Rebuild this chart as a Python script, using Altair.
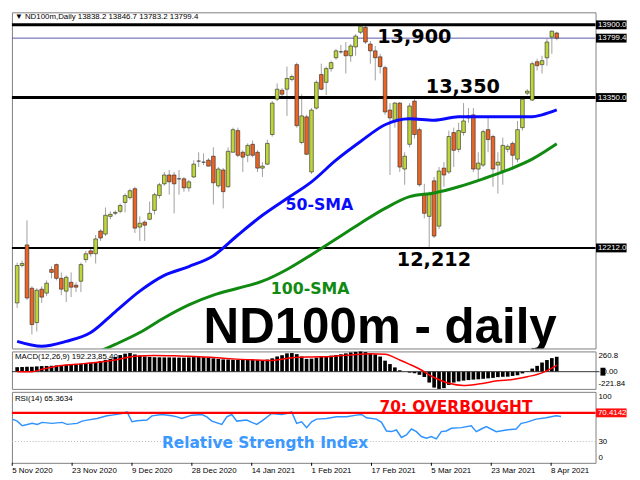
import altair as alt
import pandas as pd

# ---------------- data ----------------
opens = [11796,12079,12235,11907,11647,11900,11870,12049,12086,11982,11885,11952,11930,11960,12124,12190,12168,12340,12317,12451,
         12474,12489,12556,12593,12660,12370,12407,12429,12496,12608,12697,12764,12764,12735,12735,12667,12749,12869,12861,12876,
         12906,12682,12802,12675,12936,13100,12936,12913,12996,12936,12816,12846,13070,13338,13405,13413,13487,13599,13010,13204,
         12787,13270,13524,13465,13569,13651,13696,13703,13666,13733,13844,13882,13755,13703,13658,13576,13255,13173,13308,12809,
         12996,13323,13107,12615,12451,12720,12377,12816,12787,13085,12958,13085,13196,13219,12809,12839,13107,13055,12839,12794,
         12958,13003,12884,13122,13383,13331,13621,13599,13651,13807,13838.2]
highs = [12101,12116,12421,11922,11907,11922,11967,12072,12094,12027,12004,12027,11952,12101,12190,12213,12310,12354,12518,12489,
         12496,12548,12623,12660,12675,12451,12421,12563,12630,12705,12787,12802,12787,12802,12749,12727,12876,12936,12928,12891,
         12973,12824,12816,12973,13122,13122,12951,13003,13025,12951,12861,13032,13323,13457,13420,13584,13524,13614,13375,13219,
         13270,13480,13606,13584,13629,13718,13748,13770,13755,13830,13900,13900,13778,13740,13681,13591,13308,13316,13316,12936,
         13308,13338,13122,12697,12638,12749,12824,12861,13100,13122,13159,13308,13270,13270,12936,13107,13196,13070,12936,13047,
         12996,13018,13173,13353,13413,13621,13643,13666,13793,13859,13846.7]
lows = [11758,12064,11818,11557,11580,11796,11848,11982,11967,11855,11803,11840,11878,11878,12101,12146,12094,12265,12302,12429,
        12459,12474,12481,12578,12325,12265,12265,12422,12466,12586,12682,12615,12474,12615,12637,12638,12742,12824,12839,12831,
        12541,12667,12511,12667,12936,12899,12787,12861,12899,12787,12749,12839,13055,13323,13338,13211,13472,13122,12996,12913,
        12772,13260,13405,13368,13546,13636,13681,13532,13621,13666,13830,13755,13606,13480,13532,13219,12764,13122,12787,12690,
        12973,13040,12675,12436,12212,12287,12354,12675,12772,12824,12936,13062,13159,12787,12727,12824,12936,12675,12623,12690,
        12936,12801,12861,13100,13368,13323,13554,13532,13591,13681,13783.2]
closes = [12079,12094,11833,11632,11892,11840,11945,12027,11982,11900,11990,11915,11915,12086,12168,12168,12280,12287,12459,12466,
          12481,12533,12608,12645,12362,12399,12384,12474,12615,12690,12764,12712,12697,12735,12667,12712,12846,12869,12861,12831,
          12705,12809,12638,12943,13107,12913,12899,12988,12913,12816,12831,13003,13308,13413,13375,13494,13509,13137,13211,12921,
          13255,13465,13413,13569,13614,13703,13696,13666,13740,13815,13889,13770,13703,13651,13584,13241,13196,13308,12824,12906,
          13286,13070,12690,12474,12623,12302,12794,12764,13055,12951,13100,13173,13211,12809,12854,13092,13032,12809,12861,12988,
          12981,12913,13107,13338,13398,13606,13591,13629,13770,13852,13799.4]

sma50_idx = [0,5,10,15,20,25,30,35,40,45,50,55,60,65,70,75,80,85,90,95,100,105,107,110]
sma50_val = [11505,11468,11505,11572,11729,11885,12004,12071,12153,12310,12459,12586,12712,12876,13017,13144,13189,13178,
             13204,13204,13204,13204,13219,13256]
sma100_idx = [15,20,25,30,35,40,45,50,55,60,65,70,75,80,85,90,95,100,105,110]
sma100_val = [11401,11482,11572,11684,11781,11855,11907,11960,12049,12161,12280,12399,12511,12600,12628,12675,12735,12802,
              12884,13000]

macd_hist = [58,60,62,63,68,72,74,76,80,84,88,94,98,104,110,116,125,138,152,165,
             190,214,232,240,222,208,196,190,186,185,184,184,183,182,181,184,188,188,186,180,
             172,164,158,156,155,154,152,153,152,150,150,156,172,196,212,236,240,226,196,165,
             168,180,192,200,206,214,224,236,248,255,260.8,252,240,222,195,142,98,55,18,0,
             -12,-20,-40,-68,-140,-205,-221.84,-212,-170,-140,-125,-115,-108,-102,-98,-92,-86,-80,-70,-66,
             -64,-55,-46,-22,8,40,75,118,150,175,192.23]
signal_idx = [0,3,5,8,12,16,20,24,28,32,36,40,44,48,52,56,60,64,68,72,75,78,80,82,85,88,91,94,98,101,104,107,109,110]
signal_val = [0,0,30,70,95,118,150,200,210,205,195,184,165,153,145,180,190,197,215,230,225,150,95,35,-75,-150,-178,-160,
              -118,-100,-65,-15,45,85.4]

rsi_idx = [0,1,2,4,5,6,8,10,11,13,14,15,17,19,20,22,23,24,25,27,28,30,32,33,34,36,38,39,40,42,43,44,45,47,48,49,50,
           52,54,55,56,57,58,59,60,61,63,65,67,69,70,71,73,74,75,76,77,78,79,80,81,82,83,84,85,86,87,88,90,92,93,94,
           95,97,99,101,102,103,105,107,109,110]
rsi_val = [61.6,58.8,52.3,55.6,54.2,57.0,55.6,57.0,54.2,55.6,58.8,60.2,62.5,66.2,67.2,69.5,71.8,57.9,59.3,60.2,66.2,
           68.1,66.2,64.8,62.5,67.2,68.1,64.8,58.8,54.2,64.8,68.1,58.8,60.2,57.0,54.2,58.8,
           69.5,68.1,69.5,71.8,55.6,57.9,49.6,57.9,61.6,62.5,64.8,64.8,67.2,68.1,63.4,61.6,57.0,44.9,44.0,46.3,35.7,
           39.4,47.7,44.0,37.1,34.7,37.1,33.8,44.0,44.9,48.6,49.6,52.3,44.0,47.7,
           51.0,44.0,46.3,47.7,55.6,57.0,61.6,63.4,66.2,65.36]

date_ticks = [0, 12, 24, 36, 48, 60, 72, 84, 96, 108]
date_labels = ["5 Nov 2020", "23 Nov 2020", "9 Dec 2020", "28 Dec 2020", "14 Jan 2021", "1 Feb 2021",
               "17 Feb 2021", "5 Mar 2021", "23 Mar 2021", "8 Apr 2021"]
price_ticks = [11544.0, 11773.5, 12007.5, 12241.5, 12471.0, 12705.0, 12939.0, 13173.0, 13402.5, 13636.5, 13870.5]
thick_levels = [13900.0, 13350.0]
thin_level = [12212.0]
last_price = 13799.4
box_levels = [13900.0, 13799.4, 13350.0, 12212.0]
box_labels = ["13900.0", "13799.4", "13350.0", "12212.0"]
macd_labels_v = [260.8, 0.0, -221.84]
macd_labels_t = ["260.8", "0.00", "-221.84"]
rsi_level = 70.4142
rsi_dotted = [30]

# ---------------- styling ----------------
FONT = "Liberation Sans"
HEAVY = "DejaVu Sans"
W = 592
H_MAIN, H_MACD, H_RSI = 341, 38, 72
BULL, BEAR, WICK = "#bfd63a", "#ec6424", "#a0a0a0"

xs = alt.Scale(domain=[-0.06, 116.9], nice=False, zero=False)
ys_main = alt.Scale(domain=[11451.2, 13994.7], nice=False, zero=False)
ys_macd = alt.Scale(domain=[-221.84, 260.8], nice=False, zero=False)
ys_rsi = alt.Scale(domain=[0, 100], nice=False, zero=False)


def X(f):
    return alt.X(f, type="quantitative", scale=xs, axis=None)


def YM(f):
    return alt.Y(f, type="quantitative", scale=ys_main, axis=None)


def YD(f):
    return alt.Y(f, type="quantitative", scale=ys_macd, axis=None)


def YR(f):
    return alt.Y(f, type="quantitative", scale=ys_rsi, axis=None)


candles = pd.DataFrame({"i": list(range(len(closes))), "o": opens, "h": highs, "l": lows, "c": closes})

main_axis = alt.Axis(orient="right", values=price_ticks, format=".1f", labelFont=FONT, labelFontSize=8,
                     labelColor="black", tickColor="black", tickSize=3, labelPadding=1, domain=False,
                     grid=False, title=None, labelOverlap=False)

wicks = alt.Chart(candles).mark_rule(color=WICK, strokeWidth=1).encode(
    x=X("i"), y=alt.Y("l:Q", scale=ys_main, axis=main_axis), y2="h:Q")
bodies = alt.Chart(candles).mark_bar(size=3.7, stroke="#262626", strokeWidth=0.6).encode(
    x=X("i"), y=YM("o"), y2="c:Q",
    color=alt.condition("datum.c >= datum.o", alt.value(BULL), alt.value(BEAR)))

levels = alt.Chart(pd.DataFrame({"v": thick_levels})).mark_rule(color="black", strokeWidth=3).encode(y=YM("v"))
level3 = alt.Chart(pd.DataFrame({"v": thin_level})).mark_rule(color="black", strokeWidth=2).encode(y=YM("v"))
lastline = alt.Chart(pd.DataFrame({"v": [last_price]})).mark_rule(color="#5858a8", strokeWidth=1).encode(y=YM("v"))

bx = pd.DataFrame({"v": box_levels, "t": box_labels})
boxes = alt.Chart(bx).mark_rule(color="black", strokeWidth=9, strokeCap="butt").encode(
    y=YM("v"), x=alt.value(W + 0.5), x2=alt.value(W + 31.5))
boxtext = alt.Chart(bx).mark_text(align="left", baseline="middle", color="white", font=FONT, fontSize=8).encode(
    y=YM("v"), x=alt.value(W + 2.5), text="t:N")

s50 = pd.DataFrame({"i": sma50_idx, "v": sma50_val})
s100 = pd.DataFrame({"i": sma100_idx, "v": sma100_val})
line50 = alt.Chart(s50).mark_line(color="#0a0aff", strokeWidth=3, interpolate="monotone", clip=True).encode(
    x=X("i"), y=YM("v"))
line100 = alt.Chart(s100).mark_line(color="#108a10", strokeWidth=3, interpolate="monotone", clip=True).encode(
    x=X("i"), y=YM("v"))


def note(text, xi, yv, size, color, yf, font=HEAVY, align="left", clip=False):
    return alt.Chart(pd.DataFrame({"i": [xi], "v": [yv], "t": [text]})).mark_text(
        align=align, baseline="alphabetic", font=font, fontWeight="bold", fontSize=size, color=color, clip=clip
    ).encode(x=X("i"), y=yf("v"), text="t:N")


n1 = note("13,900", 73.4, 13760, 19.5, "black", YM)
n2 = note("13,350", 83.3, 13387, 19.5, "black", YM)
n3 = note("12,212", 77.4, 12078, 19.5, "black", YM)
n4 = note("50-SMA", 54.7, 12501, 16, "#0a0aff", YM)
n5 = note("100-SMA", 51.7, 11867, 16, "#108a10", YM)
n6 = note("ND100m - daily", 74.0, 11496, 50, "black", YM, font=FONT, align="center", clip=True)

header = alt.Chart(pd.DataFrame({"t": ["\u25BC  ND100m,Daily  13838.2 13846.7 13783.2 13799.4"]})).mark_text(
    align="left", baseline="middle", font=FONT, fontSize=8, color="black").encode(
    x=alt.value(3), y=alt.value(5), text="t:N")

main = alt.layer(wicks, levels, level3, lastline, bodies, line50, line100, boxes, boxtext,
                 n1, n2, n3, n4, n5, n6, header).properties(width=W, height=H_MAIN)

# ---------------- MACD ----------------
mh = pd.DataFrame({"i": list(range(len(macd_hist))), "m": macd_hist})
hist = alt.Chart(mh).mark_bar(size=3.7, color="black").encode(x=X("i"), y=YD("m"))
sig = alt.Chart(pd.DataFrame({"i": signal_idx, "v": signal_val})).mark_line(
    color="#ff0000", strokeWidth=1.5, interpolate="monotone").encode(x=X("i"), y=YD("v"))
zero = alt.Chart(pd.DataFrame({"v": [0.0]})).mark_rule(color="#333333", strokeWidth=1).encode(
    y=YD("v"), x=alt.value(0), x2=alt.value(W + 4))
zbox = alt.Chart(pd.DataFrame({"v": [0.0]})).mark_rule(color="black", strokeWidth=8, strokeCap="butt").encode(
    y=YD("v"), x=alt.value(W + 5), x2=alt.value(W + 10))
ml = pd.DataFrame({"v": macd_labels_v, "t": macd_labels_t})
mlab_top = alt.Chart(ml.iloc[[0]]).mark_text(align="left", baseline="top", font=FONT, fontSize=8, color="black", dy=1).encode(
    y=YD("v"), x=alt.value(W + 3), text="t:N")
mlab_mid = alt.Chart(ml.iloc[[1]]).mark_text(align="left", baseline="middle", font=FONT, fontSize=8, color="black").encode(
    y=YD("v"), x=alt.value(W + 7), text="t:N")
mlab_bot = alt.Chart(ml.iloc[[2]]).mark_text(align="left", baseline="bottom", font=FONT, fontSize=8, color="black", dy=-1).encode(
    y=YD("v"), x=alt.value(W + 3), text="t:N")
mhead = alt.Chart(pd.DataFrame({"t": ["MACD(12,26,9) 192.23,85.40"]})).mark_text(
    align="left", baseline="middle", font=FONT, fontSize=8, color="black").encode(
    x=alt.value(3), y=alt.value(6), text="t:N")
macd = alt.layer(hist, mhead, zero, sig, mlab_top, mlab_mid, zbox, mlab_bot).properties(width=W, height=H_MACD)

# ---------------- RSI ----------------
dt = pd.DataFrame({"i": date_ticks, "t": date_labels})
date_text = alt.Chart(dt).mark_text(align="left", baseline="middle", font=FONT, fontSize=8, color="black").encode(
    x=X("i"), y=alt.value(H_RSI + 8), text="t:N")
date_tick = alt.Chart(dt).mark_rule(color="black", strokeWidth=1).encode(
    x=X("i"), y=alt.value(H_RSI), y2=alt.value(H_RSI + 3))
rs = pd.DataFrame({"i": rsi_idx, "v": rsi_val})
rsi_line = alt.Chart(rs).mark_line(color="#2f93ff", strokeWidth=1.5).encode(x=X("i"), y=YR("v"))
dotted = alt.Chart(pd.DataFrame({"v": rsi_dotted})).mark_rule(color="#b4b4b4", strokeDash=[1, 2]).encode(y=YR("v"))
redline = alt.Chart(pd.DataFrame({"v": [rsi_level]})).mark_rule(color="#ff0000", strokeWidth=2.5).encode(y=YR("v"))
redbox = alt.Chart(pd.DataFrame({"v": [rsi_level]})).mark_rule(color="#ff1010", strokeWidth=9, strokeCap="butt").encode(
    y=YR("v"), x=alt.value(W + 0.5), x2=alt.value(W + 31.5))
redtext = alt.Chart(pd.DataFrame({"v": [rsi_level], "t": ["70.4142"]})).mark_text(
    align="left", baseline="middle", font=FONT, fontSize=8, color="white").encode(
    y=YR("v"), x=alt.value(W + 2.5), text="t:N")
rl = pd.DataFrame({"v": [100, 30, 0], "t": ["100", "30", "0"]})
rlab_top = alt.Chart(rl.iloc[[0]]).mark_text(align="left", baseline="top", font=FONT, fontSize=8, color="black", dy=1).encode(
    y=YR("v"), x=alt.value(W + 3), text="t:N")
rlab_mid = alt.Chart(rl.iloc[[1]]).mark_text(align="left", baseline="middle", font=FONT, fontSize=8, color="black").encode(
    y=YR("v"), x=alt.value(W + 3), text="t:N")
rlab_bot = alt.Chart(rl.iloc[[2]]).mark_text(align="left", baseline="bottom", font=FONT, fontSize=8, color="black", dy=-1).encode(
    y=YR("v"), x=alt.value(W + 3), text="t:N")
rhead = alt.Chart(pd.DataFrame({"t": ["RSI(14) 65.3634"]})).mark_text(
    align="left", baseline="middle", font=FONT, fontSize=8, color="black").encode(
    x=alt.value(3), y=alt.value(7), text="t:N")
r1 = note("70: OVERBOUGHT", 73.6, 72.2, 15.6, "#ff0000", YR)
r2 = note("Relative Strength Index", 30.0, 20.8, 15.6, "#3a98ff", YR)
rsi = alt.layer(rsi_line, dotted, redline, redbox, redtext, rlab_top, rlab_mid, rlab_bot, rhead, r1, r2,
                date_tick, date_text).properties(width=W, height=H_RSI)

chart = alt.vconcat(main, macd, rsi, spacing=3, bounds="flush").properties(
    padding=0, background="white"
).configure_view(stroke="#808080", strokeWidth=1)

chart.save("out.html", embed_options={"renderer": "svg", "actions": False})
